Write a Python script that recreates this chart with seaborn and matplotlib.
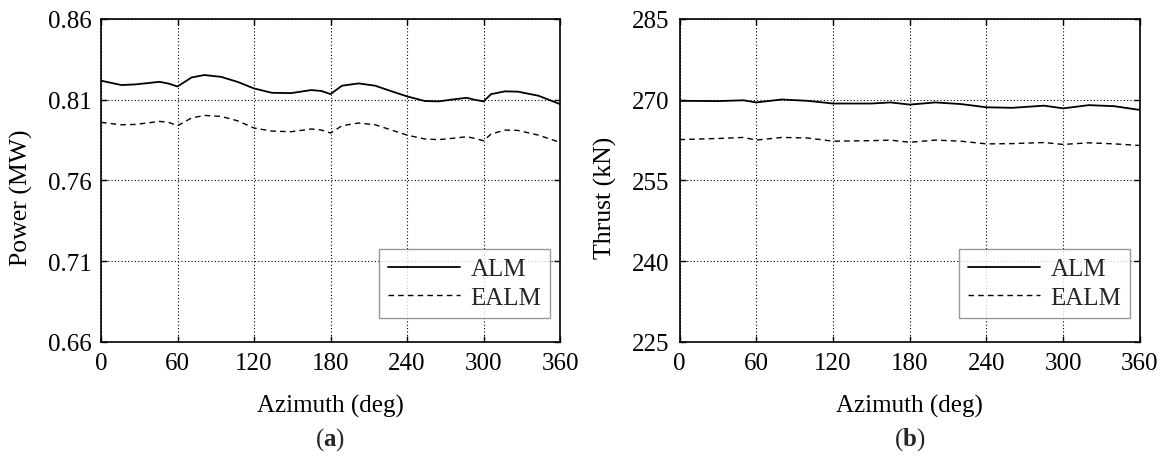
import numpy as np
import pandas as pd
import matplotlib
matplotlib.use("Agg")
import matplotlib.pyplot as plt
import seaborn as sns

# ---- data ----
az_a = [0, 16, 27, 46, 53, 60, 71, 81, 94, 107, 120, 134, 149, 165, 173, 180,
        189, 202, 215, 228, 240, 254, 265, 278, 287, 293, 300, 306, 317, 327, 343, 360]
power_alm = [0.8218, 0.8191, 0.8195, 0.8211, 0.8200, 0.8182, 0.8238, 0.8253, 0.8242,
             0.8211, 0.8170, 0.8143, 0.8141, 0.8160, 0.8154, 0.8135, 0.8187, 0.8201,
             0.8187, 0.8152, 0.8121, 0.8092, 0.8090, 0.8104, 0.8112, 0.8100, 0.8090,
             0.8135, 0.8152, 0.8150, 0.8125, 0.8073]
power_ealm = [0.7960, 0.7945, 0.7947, 0.7966, 0.7960, 0.7939, 0.7987, 0.8003, 0.7997,
              0.7970, 0.7925, 0.7906, 0.7902, 0.7919, 0.7912, 0.7894, 0.7939, 0.7956,
              0.7945, 0.7912, 0.7881, 0.7857, 0.7853, 0.7863, 0.7871, 0.7861, 0.7846,
              0.7888, 0.7912, 0.7910, 0.7881, 0.7836]

az_b = [0, 30, 50, 60, 80, 100, 120, 150, 165, 180, 200, 220, 240, 260, 285, 300, 320, 340, 360]
thrust_alm = [269.8, 269.75, 269.9, 269.5, 270.05, 269.8, 269.3, 269.3, 269.5, 269.1,
              269.5, 269.2, 268.6, 268.5, 268.9, 268.4, 269.0, 268.8, 268.1]
thrust_ealm = [262.6, 262.8, 263.0, 262.5, 263.0, 262.9, 262.3, 262.4, 262.5, 262.1,
               262.5, 262.3, 261.8, 261.85, 262.05, 261.7, 262.0, 261.8, 261.5]

x_ticks = [0, 60, 120, 180, 240, 300, 360]
power_ticks = [0.66, 0.71, 0.76, 0.81, 0.86]
thrust_ticks = [225, 240, 255, 270, 285]

sns.set_theme(style="white")
plt.rcParams['font.family'] = ['Liberation Serif', 'DejaVu Serif']
plt.rcParams['mathtext.fontset'] = 'custom'
plt.rcParams['mathtext.rm'] = 'Liberation Serif'
plt.rcParams['mathtext.bf'] = 'Liberation Serif:bold'

fig = plt.figure(figsize=(11.65, 4.64), dpi=100)
ax1 = fig.add_axes([0.0867, 0.2608, 0.394, 0.6961])
ax2 = fig.add_axes([0.5833, 0.2608, 0.3952, 0.6961])

FS = 18

def style(ax, yticks, ylabel, fmt):
    ax.set_xlim(0, 360)
    ax.set_ylim(yticks[0], yticks[-1])
    ax.set_xticks(x_ticks)
    ax.set_yticks(yticks)
    ax.set_yticklabels([fmt.format(v) for v in yticks])
    ax.grid(True, color='black', linestyle=(0, (1, 2)), linewidth=0.8)
    for s in ax.spines.values():
        s.set_color('black')
        s.set_linewidth(1.2)
        s.set_visible(True)
    ax.tick_params(direction='in', length=4, width=1, colors='black',
                   labelsize=FS, top=True, right=True, bottom=True, left=True)
    ax.tick_params(axis='x', pad=7)
    ax.tick_params(axis='y', pad=7)
    ax.set_xlabel('Azimuth (deg)', fontsize=FS, color='black')
    ax.xaxis.set_label_coords(0.5, -0.16)
    ax.set_ylabel(ylabel, fontsize=FS + 0.5, color='black')
    leg = ax.legend(loc='lower right', bbox_to_anchor=(1 - 10 / 459, 24 / 323),
                    fontsize=FS, frameon=True, fancybox=False,
                    edgecolor='#808080', handlelength=2.9, borderaxespad=0.0,
                    borderpad=0.35, labelspacing=0.25, handletextpad=0.4)
    leg.get_frame().set_linewidth(1.0)

dfa = pd.DataFrame({'az': az_a, 'ALM': power_alm, 'EALM': power_ealm})
dfb = pd.DataFrame({'az': az_b, 'ALM': thrust_alm, 'EALM': thrust_ealm})

sns.lineplot(data=dfa, x='az', y='ALM', ax=ax1, color='black', lw=1.3, label='ALM')
sns.lineplot(data=dfa, x='az', y='EALM', ax=ax1, color='black', lw=1.0,
             linestyle=(0, (4, 3)), label='EALM')
sns.lineplot(data=dfb, x='az', y='ALM', ax=ax2, color='black', lw=1.3, label='ALM')
sns.lineplot(data=dfb, x='az', y='EALM', ax=ax2, color='black', lw=1.0,
             linestyle=(0, (4, 3)), label='EALM')

style(ax1, power_ticks, 'Power (MW)', '{:.2f}')
style(ax2, thrust_ticks, 'Thrust (kN)', '{:.0f}')
ax1.yaxis.set_label_coords(-0.148, 0.45)
ax2.yaxis.set_label_coords(-0.136, 0.45)

fig.text(0.283, 0.052, r'($\mathbf{a}$)', ha='center', va='center', fontsize=FS)
fig.text(0.781, 0.052, r'($\mathbf{b}$)', ha='center', va='center', fontsize=FS)

fig.savefig('out.png', dpi=100)
